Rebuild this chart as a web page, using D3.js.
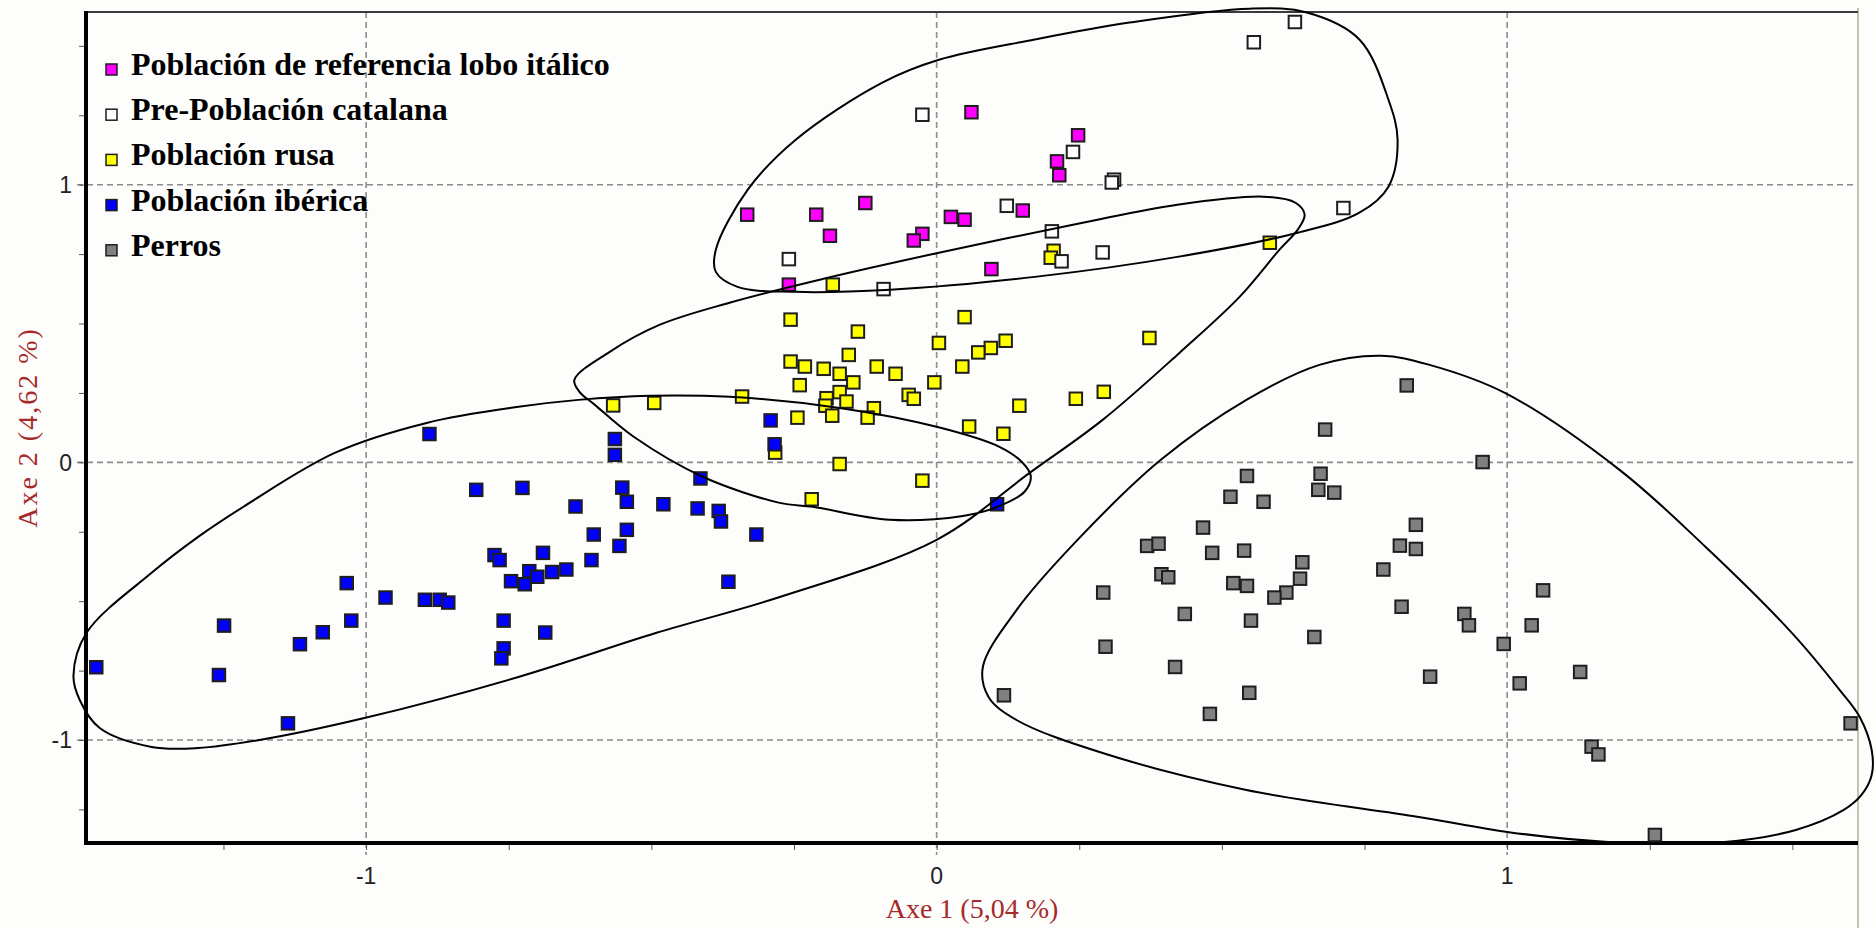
<!DOCTYPE html>
<html lang="es">

<head>
    <meta charset="UTF-8">
    <title>AFC</title>
    <script src="https://d3js.org/d3.v7.min.js"></script>
    <style>
        body { margin: 0; background: #fdfdfb; }
    </style>
</head>

<body>

    <svg width="1876" height="928"></svg>

</body>

<script>
    // populations (legend order)
    var categories = ["Población de referencia lobo itálico", "Pre-Población catalana", "Población rusa", "Población ibérica", "Perros"];
    var colors = ["#ff00ff", "#ffffff", "#ffff00", "#0000ff", "#808080"];

    // [Axe 1, Axe 2]
    var lobo = [[0.061,1.261],[0.248,1.178],[0.211,1.084],[0.215,1.034],[-0.125,0.934],[-0.332,0.892],[-0.211,0.892],[0.025,0.884],[0.049,0.874],[0.151,0.907],[-0.187,0.816],[-0.025,0.823],[-0.040,0.799],[0.096,0.696],[-0.259,0.640]];
    var catalana = [[0.628,1.586],[0.556,1.513],[-0.025,1.252],[0.239,1.118],[0.311,1.018],[0.307,1.008],[0.123,0.924],[0.713,0.916],[0.202,0.832],[-0.259,0.732],[0.219,0.724],[0.291,0.756],[-0.093,0.624]];
    var rusa = [[-0.182,0.640],[-0.256,0.514],[-0.138,0.471],[0.004,0.430],[0.049,0.523],[0.121,0.438],[0.095,0.412],[0.073,0.396],[0.045,0.345],[0.373,0.448],[-0.256,0.363],[-0.231,0.345],[-0.198,0.337],[-0.170,0.319],[-0.154,0.387],[-0.105,0.345],[-0.072,0.319],[-0.146,0.288],[-0.240,0.278],[-0.170,0.253],[-0.193,0.231],[-0.158,0.219],[-0.195,0.204],[-0.183,0.168],[-0.049,0.243],[-0.040,0.229],[-0.004,0.288],[-0.341,0.237],[-0.244,0.161],[-0.110,0.195],[-0.121,0.161],[0.145,0.204],[0.244,0.229],[0.293,0.254],[0.057,0.129],[0.117,0.103],[-0.283,0.035],[-0.170,-0.006],[-0.025,-0.066],[-0.219,-0.133],[-0.567,0.205],[-0.495,0.214],[0.205,0.762],[0.200,0.737],[0.584,0.791]];
    var iberica = [[-0.889,0.102],[-0.564,0.084],[-0.564,0.027],[-0.291,0.151],[-0.284,0.065],[-0.807,-0.099],[-0.726,-0.092],[-0.414,-0.058],[-0.551,-0.091],[-0.543,-0.142],[-0.633,-0.159],[-0.479,-0.151],[-0.419,-0.166],[-0.382,-0.175],[-0.378,-0.213],[-0.316,-0.260],[-0.601,-0.260],[-0.543,-0.243],[-0.556,-0.301],[-0.775,-0.334],[-0.766,-0.352],[-0.690,-0.326],[-0.605,-0.352],[-0.649,-0.386],[-0.674,-0.395],[-0.714,-0.392],[-0.700,-0.412],[-0.746,-0.428],[-0.722,-0.439],[-0.365,-0.430],[-1.034,-0.435],[-0.966,-0.487],[-0.897,-0.495],[-0.871,-0.495],[-0.856,-0.505],[-1.249,-0.588],[-1.076,-0.612],[-1.026,-0.570],[-1.116,-0.655],[-0.759,-0.570],[-0.686,-0.613],[-0.759,-0.670],[-0.763,-0.706],[-1.473,-0.738],[-1.258,-0.766],[-1.137,-0.940],[0.106,-0.151]];
    var perros = [[0.824,0.277],[0.681,0.118],[0.957,0.001],[0.544,-0.049],[0.673,-0.041],[0.669,-0.099],[0.697,-0.109],[0.515,-0.124],[0.573,-0.142],[0.467,-0.235],[0.840,-0.225],[0.369,-0.301],[0.389,-0.293],[0.483,-0.326],[0.539,-0.318],[0.812,-0.300],[0.840,-0.312],[0.641,-0.360],[0.637,-0.419],[0.783,-0.386],[0.394,-0.403],[0.406,-0.414],[0.520,-0.435],[0.544,-0.445],[0.613,-0.469],[0.592,-0.487],[0.292,-0.469],[1.063,-0.461],[0.435,-0.546],[0.551,-0.570],[0.815,-0.520],[0.925,-0.546],[0.933,-0.587],[1.043,-0.587],[0.662,-0.629],[0.994,-0.654],[0.296,-0.664],[0.418,-0.737],[0.865,-0.772],[1.022,-0.796],[1.128,-0.755],[0.118,-0.839],[0.548,-0.830],[0.479,-0.906],[1.602,-0.940],[1.148,-1.024],[1.160,-1.052],[1.259,-1.342]];

    // hand drawn outlines round the groups, in axis units
    var contourTop = [[-0.331,0.982],[-0.247,1.162],[-0.096,1.367],[0.004,1.450],[0.172,1.523],[0.338,1.584],[0.549,1.634],[0.649,1.620],[0.741,1.523],[0.792,1.306],[0.808,1.162],[0.792,0.993],[0.741,0.899],[0.633,0.827],[0.422,0.740],[0.172,0.668],[-0.081,0.622],[-0.247,0.614],[-0.349,0.632],[-0.387,0.686],[-0.387,0.766]];
    var contourMid = [[-0.635,0.297],[-0.573,0.398],[-0.486,0.495],[-0.363,0.575],[-0.205,0.658],[0.004,0.755],[0.256,0.863],[0.422,0.928],[0.573,0.957],[0.629,0.935],[0.645,0.892],[0.633,0.838],[0.601,0.766],[0.531,0.596],[0.426,0.395],[0.291,0.153],[0.163,-0.038],[0.000,-0.279],[-0.275,-0.485],[-0.491,-0.614],[-0.733,-0.773],[-1.003,-0.921],[-1.187,-1.000],[-1.295,-1.029],[-1.376,-1.025],[-1.467,-0.957],[-1.502,-0.856],[-1.513,-0.769],[-1.490,-0.614],[-1.376,-0.398],[-1.292,-0.265],[-1.215,-0.160],[-1.055,0.034],[-0.894,0.142],[-0.733,0.200],[-0.628,0.225],[-0.503,0.240],[-0.363,0.236],[-0.170,0.196],[0.000,0.128],[0.110,0.056],[0.149,0.002],[0.165,-0.049],[0.154,-0.106],[0.102,-0.164],[0.046,-0.193],[-0.082,-0.207],[-0.217,-0.160],[-0.275,-0.146],[-0.410,-0.052],[-0.531,0.092],[-0.599,0.207],[-0.626,0.254]];
    var contourPerros = [[0.780,0.384],[0.864,0.351],[0.996,0.250],[1.197,-0.027],[1.348,-0.305],[1.499,-0.614],[1.583,-0.820],[1.618,-0.917],[1.639,-1.036],[1.639,-1.126],[1.621,-1.198],[1.590,-1.252],[1.506,-1.324],[1.376,-1.368],[1.183,-1.368],[1.003,-1.332],[0.845,-1.277],[0.543,-1.180],[0.291,-1.047],[0.140,-0.928],[0.091,-0.845],[0.081,-0.737],[0.140,-0.532],[0.242,-0.290],[0.393,0.009],[0.543,0.225],[0.671,0.351]];

    var majorTicks = [-1, 0, 1];
    var minorTicks = [-1.25, -1, -0.75, -0.5, -0.25, 0, 0.25, 0.5, 0.75, 1, 1.25, 1.5];
    var xTitle = "Axe 1 (5,04 %)";
    var yTitle = "Axe 2 (4,62 %)";

    var svg = d3.select("svg");
    // plot frame in pixels (window.top is read only, so no "top" here)
    var plotL = 86, plotR = 1858, plotT = 12, plotB = 843;

    var x = d3.scaleLinear().domain([-1.491, 1.615]).range([plotL, plotR]);
    var y = d3.scaleLinear().domain([-1.371, 1.622]).range([plotB, plotT]);

    svg.append("rect").attr("width", 1876).attr("height", 928).attr("fill", "#fdfdfb");

    // dashed grid at the integer values
    svg.append("g").selectAll("line").data(majorTicks).join("line")
        .attr("x1", d => x(d)).attr("x2", d => x(d))
        .attr("y1", plotT).attr("y2", plotB + 12)
        .attr("stroke", "#8c8c8c").attr("stroke-width", 1.6).attr("stroke-dasharray", "6,4");
    svg.append("g").selectAll("line").data(majorTicks).join("line")
        .attr("x1", plotL - 9).attr("x2", plotR)
        .attr("y1", d => y(d)).attr("y2", d => y(d))
        .attr("stroke", "#8c8c8c").attr("stroke-width", 1.6).attr("stroke-dasharray", "6,4");

    // minor ticks
    svg.append("g").attr("transform", "translate(0," + plotB + ")")
        .call(d3.axisBottom(x).tickValues(minorTicks).tickSize(7).tickFormat(""))
        .call(g => g.select(".domain").remove())
        .selectAll("line").attr("stroke", "#555");
    svg.append("g").attr("transform", "translate(" + plotL + ",0)")
        .call(d3.axisLeft(y).tickValues(minorTicks.filter(d => d > -1.371)).tickSize(7).tickFormat(""))
        .call(g => g.select(".domain").remove())
        .selectAll("line").attr("stroke", "#555");

    // tick labels
    svg.append("g").selectAll("text").data(majorTicks).join("text")
        .attr("x", d => x(d)).attr("y", 884)
        .attr("text-anchor", "middle")
        .attr("font-family", "Liberation Sans, Arial, sans-serif").attr("font-size", 23)
        .attr("fill", "#222").text(d => d);
    svg.append("g").selectAll("text").data(majorTicks).join("text")
        .attr("x", 72).attr("y", d => y(d)).attr("dy", "0.36em")
        .attr("text-anchor", "end")
        .attr("font-family", "Liberation Sans, Arial, sans-serif").attr("font-size", 23)
        .attr("fill", "#222").text(d => d);

    // frame
    svg.append("line").attr("x1", plotR).attr("x2", plotR).attr("y1", plotT - 4).attr("y2", 928)
        .attr("stroke", "#c9c2b0").attr("stroke-width", 2);
    svg.append("line").attr("x1", plotL).attr("x2", plotR).attr("y1", plotT).attr("y2", plotT)
        .attr("stroke", "#3a3a3a").attr("stroke-width", 2);
    svg.append("line").attr("x1", plotL).attr("x2", plotL).attr("y1", plotT - 1).attr("y2", plotB + 2)
        .attr("stroke", "#000").attr("stroke-width", 4);
    svg.append("line").attr("x1", plotL - 2).attr("x2", plotR).attr("y1", plotB).attr("y2", plotB)
        .attr("stroke", "#000").attr("stroke-width", 4);

    // axis titles
    svg.append("text").attr("x", (plotL + plotR) / 2).attr("y", 918)
        .attr("text-anchor", "middle")
        .attr("font-family", "Liberation Serif, Times New Roman, serif").attr("font-size", 28)
        .attr("fill", "#a52a2a").text(xTitle);
    svg.append("text").attr("transform", "translate(37," + (plotT + plotB) / 2 + ") rotate(-90)")
        .attr("text-anchor", "middle")
        .attr("font-family", "Liberation Serif, Times New Roman, serif").attr("font-size", 28)
        .attr("letter-spacing", 2)
        .attr("fill", "#a52a2a").text(yTitle);

    // points
    var groups = [lobo, catalana, rusa, iberica, perros];
    var drawOrder = [2, 3, 4, 0, 1];
    var s = 12.5;
    drawOrder.forEach(function(i) {
        svg.append("g").selectAll("rect").data(groups[i]).join("rect")
            .attr("x", d => x(d[0]) - s / 2)
            .attr("y", d => y(d[1]) - s / 2)
            .attr("width", s).attr("height", s)
            .attr("fill", colors[i])
            .attr("stroke", "#1e1e1e").attr("stroke-width", 2);
    });

    // outlines
    var line = d3.line()
        .x(d => x(d[0])).y(d => y(d[1]))
        .curve(d3.curveCatmullRomClosed.alpha(0.5));
    svg.append("g").selectAll("path").data([contourTop, contourMid, contourPerros]).join("path")
        .attr("d", line)
        .attr("fill", "none").attr("stroke", "#000").attr("stroke-width", 2);

    // legend
    var legend = svg.append("g").selectAll("g").data(categories).join("g")
        .attr("transform", (d, i) => "translate(106," + (75 + i * 45.2) + ")");
    legend.append("rect")
        .attr("x", 0).attr("y", -11).attr("width", 11).attr("height", 11)
        .attr("fill", (d, i) => colors[i])
        .attr("stroke", "#1e1e1e").attr("stroke-width", 1.5);
    legend.append("text")
        .attr("x", 25).attr("y", 0)
        .attr("font-family", "Liberation Serif, Times New Roman, serif")
        .attr("font-weight", "bold").attr("font-size", 32)
        .attr("fill", "#000").text(d => d);
</script>

</html>
